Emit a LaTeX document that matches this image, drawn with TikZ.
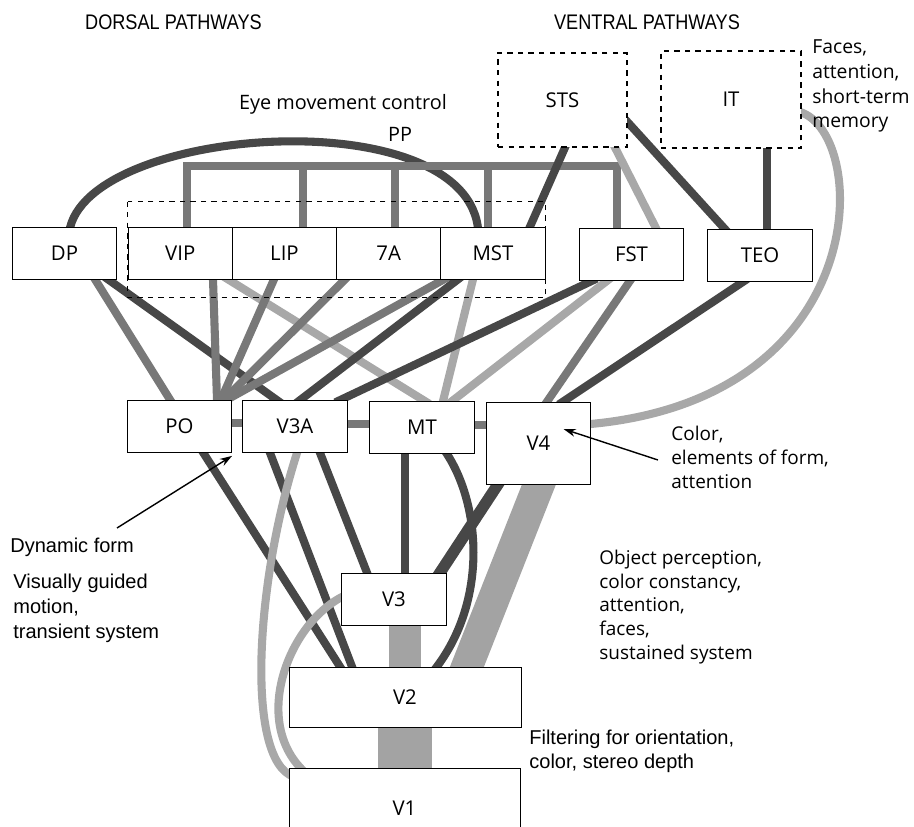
\documentclass[tikz,border=0pt]{standalone}
\usepackage{fontspec}
\setmainfont{Open Sans}
\newfontfamily\headfont{Liberation Sans}
\newfontfamily\narrowfont[FakeStretch=0.86]{Liberation Sans}
\usetikzlibrary{calc, arrows.meta}
\pgfdeclarelayer{background}
\pgfsetlayers{background,main}
\definecolor{pathdark}{gray}{0.28}
\definecolor{pathmid}{gray}{0.47}
\definecolor{pathpale}{gray}{0.66}
\definecolor{pathband}{gray}{0.64}
\tikzstyle{area}    = [draw, fill=white, inner sep=0pt, minimum width=2.09cm, minimum height=1.04cm, font=\fontsize{11.6}{13}\selectfont]
\tikzstyle{zone}    = [area, dashed, semithick]
\tikzstyle{link}    = [line width=4.6pt, shorten <=-3pt, shorten >=-3pt]
\tikzstyle{dark}    = [link, draw=pathdark]
\tikzstyle{mid}     = [link, draw=pathmid]
\tikzstyle{pale}    = [link, draw=pathpale]
\tikzstyle{band}    = [draw=pathband, shorten <=-8pt, shorten >=-8pt]
\tikzstyle{heading} = [inner sep=0pt, font=\narrowfont\fontsize{12}{14}\selectfont]
\tikzstyle{note}    = [inner sep=0pt, anchor=west, align=left, font=\fontsize{10.8}{13.6}\selectfont]
\tikzstyle{plainnote} = [note, font=\headfont\fontsize{11.4}{14.2}\selectfont]
\tikzstyle{pointer} = [line width=0.8pt, -{Stealth[length=7pt,width=4.5pt]}]

\begin{document}
\begin{tikzpicture}[x=0.02cm, y=-0.02cm]
  \useasboundingbox (0,0) rectangle (914,827);

  %headings
  \node[heading] (dorsal)  at (173.5,22) {DORSAL PATHWAYS};
  \node[heading] (ventral) at (647,22) {VENTRAL PATHWAYS};

  %parietal and temporal areas
  \node[area] (dp)  at (64.5,253)   {DP};
  \node[area] (vip) at (180.25,253) {VIP};
  \node[area] (lip) at (284.5,253)  {LIP};
  \node[area] (a7)  at (388.75,253) {7A};
  \node[area] (mst) at (493,253)    {MST};
  \node[area] (fst) at (631.5,254.5) {FST};
  \node[area] (teo) at (760,255.5)  {TEO};
  \node[zone, minimum width=2.58cm, minimum height=1.88cm] (sts) at (562.5,100) {STS};
  \node[zone, minimum width=2.8cm, minimum height=1.94cm] (it) at (731,99.5) {IT};

  %middle row
  \node[area] (po)  at (179.5,426) {PO};
  \node[area] (v3a) at (295,426.5) {V3A};
  \node[area] (mt)  at (422,427.5) {MT};
  \node[area, minimum height=1.64cm] (v4) at (538.5,443) {V4};

  %early visual areas
  \node[area] (v3) at (394,599) {V3};
  \node[area, minimum width=4.64cm, minimum height=1.2cm] (v2) at (405,697) {V2};
  \node[area, minimum width=4.62cm, minimum height=1.6cm] (v1) at (404.5,808) {V1};

  \draw[dashed, semithick] ($(vip.north west)+(0,-25)$) rectangle ($(mst.south east)+(0,18)$);

  \coordinate (ppl) at (187,166);
  \coordinate (ppr) at (617,166);

  \begin{pgfonlayer}{background}
    %eye movement loop and PP bracket
    \draw[dark] (dp.north -| 70,0) .. controls (85,125) and (470,98) .. (mst.north -| 478,0);
    \draw[mid, line cap=rect, shorten <=0pt, shorten >=0pt] (ppl) -- (ppr);
    \foreach \n/\x in {vip/187, lip/303, a7/395, mst/488, fst/617}
      \draw[mid, shorten >=0pt] (\n.north -| \x,0) -- (ppl -| \x,0);

    %ventral top
    \draw[dark] (sts.south -| 565,0) -- (mst.north -| 530,0);
    \draw[pale] (sts.south -| 615,0) -- (fst.north -| 656,0);
    \draw[dark] (sts.east |- 0,122) -- (teo.north -| 725,0);
    \draw[dark] (it.south -| 767,0) -- (teo.north -| 767,0);
    \draw[pale] (it.east |- 0,112) .. controls (870,125) and (880,400) .. (v4.east |- 0,424);

    %top row to middle row
    \draw[mid]  (dp.south -| 95,0)   -- (po.north -| 170,0);
    \draw[dark] (dp.south -| 108,0)  -- (v3a.north -| 277,0);
    \draw[mid]  (vip.south -| 213,0) -- (po.north -| 217,0);
    \draw[pale] (vip.south -| 228,0) -- (mt.north -| 425,0);
    \draw[mid]  (lip.south -| 274,0) -- (po.north -| 221,0);
    \draw[mid]  (a7.south -| 345,0)  -- (po.north -| 224,0);
    \draw[mid]  (mst.south -| 444,0) -- (po.north -| 227,0);
    \draw[dark] (mst.south -| 458,0) -- (v3a.north -| 300,0);
    \draw[pale] (mst.south -| 473,0) -- (mt.north -| 443,0);
    \draw[dark] (fst.south -| 592,0) -- (v3a.north -| 340,0);
    \draw[pale] (fst.south -| 607,0) -- (mt.north -| 452,0);
    \draw[mid]  (fst.south -| 630,0) -- (v4.north -| 547,0);
    \draw[dark] (teo.south -| 743,0) -- (v4.north -| 563,0);

    %middle row
    \draw[mid] (po.east |- 0,423)  -- (v3a.west |- 0,423);
    \draw[mid] (v3a.east |- 0,424) -- (mt.west |- 0,424);
    \draw[mid] (mt.east |- 0,425)  -- (v4.west |- 0,425);

    %down to V3, V2, V1
    \draw[band, line width=18pt] (v4.south -| 539,0) -- (v2.north -| 467,0);
    \draw[band, line width=18pt] (v3.south -| 405,0) -- (v2.north -| 405,0);
    \draw[band, line width=31pt] (v2.south -| 405,0) -- (v1.north -| 405,0);
    \draw[dark] (po.south -| 203,0)  -- (v2.north -| 340,0);
    \draw[dark] (v3a.south -| 270,0) -- (v2.north -| 352,0);
    \draw[dark] (v3a.south -| 320,0) -- (v3.north -| 367,0);
    \draw[pale] (v3a.south -| 297,0) .. controls (255,580) and (245,760) .. (v1.west |- 0,775);
    \draw[pale] (v3.west |- 0,597) .. controls (290,620) and (250,720) .. (v1.north -| 300,0);
    \draw[dark] (mt.south -| 405,0) -- (v3.north -| 405,0);
    \draw[dark] (mt.south -| 447,0) .. controls (480,500) and (490,600) .. (v2.north -| 437,0);
    \draw[dark, line width=6.5pt] (v4.south -| 498,0) -- (v3.north -| 440,0);
  \end{pgfonlayer}

  %labels
  \node[note, anchor=center, font=\fontsize{11.3}{13}\selectfont] (eye) at (343,104) {Eye movement control};
  \node[note, anchor=center, font=\fontsize{11.3}{13}\selectfont] (pp) at (400,134) {PP};
  \node[note, font=\fontsize{11}{14.2}\selectfont] (faces) at (812,86) {Faces,\\attention,\\short-term\\memory};
  \node[note] (color) at (671,457) {Color,\\elements of form,\\attention};
  \node[note] (object) at (599,607) {Object perception,\\color constancy,\\attention,\\faces,\\sustained system};
  \node[plainnote, font=\headfont\fontsize{11.4}{13.6}\selectfont] (filter) at (529,751) {Filtering for orientation,\\color, stereo depth};
  \node[plainnote] (dynamic) at (10,547) {Dynamic form};
  \node[plainnote] (guided) at (13,608) {Visually guided\\motion,\\transient system};

  %pointers
  \coordinate (dyntail) at (117,528);
  \coordinate (colortail) at (658,460);
  \draw[pointer] (dyntail) -- ([yshift=-2pt]po.south east);
  \draw[pointer] (colortail) -- ($(v4)+(25,-14)$);
\end{tikzpicture}
\end{document}
